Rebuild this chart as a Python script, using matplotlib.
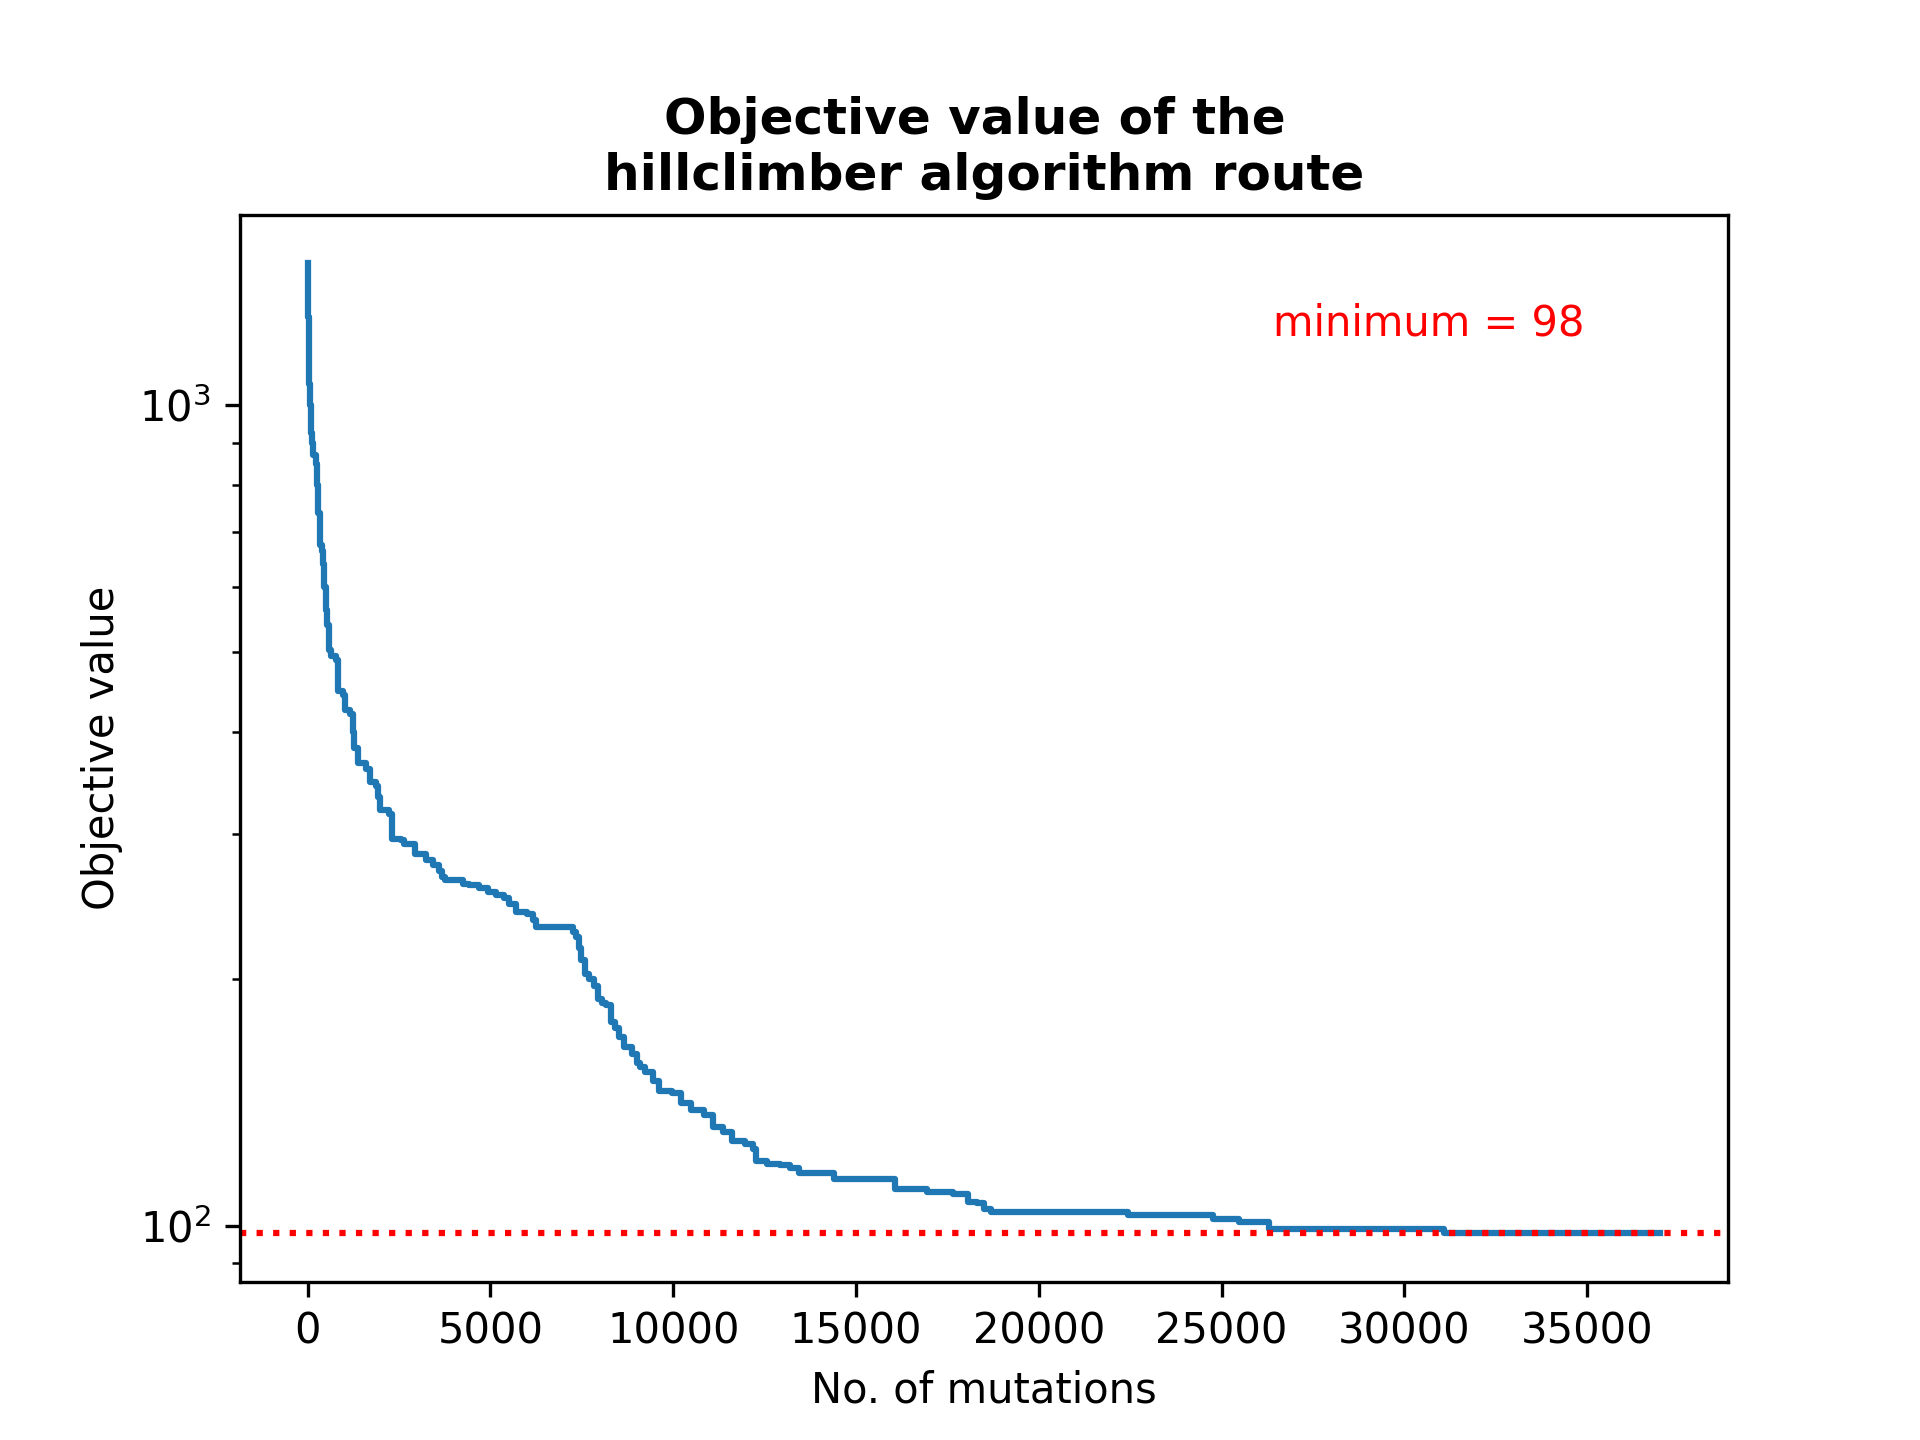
import matplotlib
matplotlib.use("Agg")
import matplotlib.pyplot as plt

# mutation index where the objective value changes, and the new value
mutations = [
    0, 10, 20, 30, 47, 70, 93, 130, 160, 230, 260, 290, 339, 380, 420, 460,
    503, 540, 594, 650, 777, 821, 958, 1031, 1168, 1230, 1278, 1368, 1598,
    1715, 1871, 1930, 1989, 2216, 2298, 2555, 2646, 2947, 3239, 3420, 3603,
    3676, 3750, 4250, 4424, 4697, 4925, 5154, 5382, 5518, 5701, 6000, 6156,
    6249, 7250, 7343, 7420, 7478, 7598, 7700, 7828, 7951, 8050, 8173, 8299,
    8400, 8526, 8649, 8876, 8996, 9100, 9223, 9434, 9606, 9956, 10219, 10479,
    10829, 11089, 11352, 11614, 11962, 12189, 12260, 12575, 12922, 13185,
    13445, 14405, 16063, 16936, 17650, 18070, 18300, 18500, 18679, 22432,
    24753, 25485, 26306, 31070, 37000,
]
objective = [
    1490, 1400, 1280, 1190, 1062, 1000, 924, 900, 870, 847, 800, 740, 676,
    665, 640, 600, 563, 540, 503, 495, 489, 448, 443, 425, 420, 400, 382, 366,
    360, 347, 344, 333, 321, 318, 296, 295, 292, 284, 279, 275, 271, 266, 264,
    261, 260, 258, 255, 253, 251, 247, 241, 240, 236, 231, 228, 225, 218, 211,
    203, 200, 196, 189, 187, 186, 177, 174, 170, 165, 162, 158, 156, 154, 150,
    146, 145, 141, 138.5, 136.5, 132, 130, 127, 126, 124, 120, 119, 118.5,
    117.5, 116, 114, 111, 110, 109.5, 107, 106.5, 105, 104, 103, 102, 101, 99,
    98, 98,
]
minimum = 98

fig, ax = plt.subplots(figsize=(6.4, 4.8), dpi=300)
fig.subplots_adjust(top=0.851)

ax.plot(mutations, objective, drawstyle="steps-post")
ax.axhline(minimum, color="red", linestyle=":")
ax.set_yscale("log")

ax.text(26400, 1217, f"minimum = {minimum}", color="red")

ax.set_title("Objective value of the \nhillclimber algorithm route", fontweight="bold")
ax.set_xlabel("No. of mutations")
ax.set_ylabel("Objective value")

fig.savefig("out.png", dpi=300)
